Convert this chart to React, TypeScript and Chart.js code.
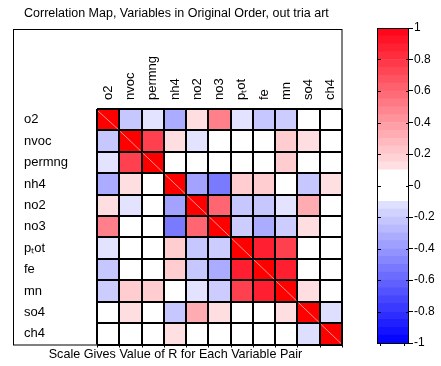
import React, { useEffect, useRef } from "react";
import { Chart, registerables } from "chart.js";

Chart.register(...registerables);

// ---------- data ----------
const variables = ["o2", "nvoc", "permng", "nh4", "no2", "no3", "pₜot", "fe", "mn", "so4", "ch4"];

const rowO2 = [1, -0.22, -0.11, -0.33, 0.13, 0.5, -0.11, -0.22, -0.2, 0, 0];
const rowNvoc = [-0.22, 1, 0.75, 0.13, -0.11, 0, 0, 0, 0.2, 0.13, 0];
const rowPermng = [-0.11, 0.75, 1, 0, 0, 0, 0, 0, 0.2, 0, 0];
const rowNh4 = [-0.33, 0.13, 0, 1, -0.36, -0.52, 0.2, 0.2, 0, -0.22, 0.12];
const rowNo2 = [0.13, -0.11, 0, -0.36, 1, 0.6, -0.22, -0.22, -0.11, 0.33, 0];
const rowNo3 = [0.5, 0, 0, -0.52, 0.6, 1, -0.2, -0.33, -0.2, 0.13, 0];
const rowPtot = [-0.11, 0, 0, 0.2, -0.22, -0.2, 1, 0.88, 0.75, 0, 0];
const rowFe = [-0.22, 0, 0, 0.2, -0.22, -0.33, 0.88, 1, 0.88, 0, 0];
const rowMn = [-0.2, 0.2, 0.2, 0, -0.11, -0.2, 0.75, 0.88, 1, 0.13, 0];
const rowSo4 = [0, 0.13, 0, -0.22, 0.33, 0.13, 0, 0, 0.13, 1, -0.13];
const rowCh4 = [0, 0, 0, 0.12, 0, 0, 0, 0, 0, -0.13, 1];

const matrixRows = [rowO2, rowNvoc, rowPermng, rowNh4, rowNo2, rowNo3, rowPtot, rowFe, rowMn, rowSo4, rowCh4];

const colorbarLevels = [
  -1, -0.95, -0.9, -0.85, -0.8, -0.75, -0.7, -0.65, -0.6, -0.55, -0.5, -0.45, -0.4, -0.35, -0.3, -0.25, -0.2, -0.15, -0.1,
  0.1, 0.15, 0.2, 0.25, 0.3, 0.35, 0.4, 0.45, 0.5, 0.55, 0.6, 0.65, 0.7, 0.75, 0.8, 0.85, 0.9, 0.95, 1,
];
const colorbarTicks = [-1, -0.8, -0.6, -0.4, -0.2, 0, 0.2, 0.4, 0.6, 0.8, 1];

const titleText = "Correlation Map, Variables in Original Order, out tria art";
const captionText = "Scale Gives Value of R for Each Variable Pair";

const FONT = "'Liberation Sans', Arial, Helvetica, sans-serif";
const LABEL_SIZE = 13;

function colorFor(v: number): string {
  const a = Math.abs(v);
  if (a < 0.1) return "rgb(255,255,255)";
  const c = Math.round(255 * (1 - a));
  if (v > 0) {
    const b = a >= 0.999 ? 0 : Math.min(255, c + Math.round(20 * a));
    return `rgb(255,${c},${b})`;
  }
  return `rgb(${c},${c},255)`;
}

const heatmapDecor = {
  id: "heatmapDecor",
  afterDraw(chart: any) {
    const { ctx, chartArea } = chart;
    const { left, right, top, bottom } = chartArea;
    ctx.save();
    // faint diagonal lines in the diagonal cells
    ctx.strokeStyle = "rgba(255,160,160,0.9)";
    ctx.lineWidth = 1;
    for (let i = 0; i < matrixRows.length; i++) {
      const el: any = chart.getDatasetMeta(i).data[i];
      if (!el) continue;
      const x0 = el.x - el.width / 2 + 1;
      const x1 = el.x + el.width / 2 - 1;
      const y0 = Math.min(el.y, el.base) + 1;
      const y1 = Math.max(el.y, el.base) - 1;
      ctx.beginPath();
      ctx.moveTo(x0, y0);
      ctx.lineTo(x1, y1);
      ctx.stroke();
    }
    // outer frame
    ctx.strokeStyle = "#000";
    ctx.lineWidth = 1;
    const fl = Math.round(left - 84) + 0.5;
    const ft = Math.round(top - 80) + 0.5;
    ctx.strokeRect(fl, ft, Math.round(right) - fl, Math.round(bottom) - ft);
    // little ticks below the map
    const n = variables.length;
    const w = (right - left) / n;
    ctx.beginPath();
    for (let k = 0; k <= n; k++) {
      const x = Math.round(left + k * w) + 0.5;
      ctx.moveTo(x, bottom);
      ctx.lineTo(x, bottom + 3);
    }
    ctx.stroke();
    // caption
    ctx.fillStyle = "#000";
    ctx.font = `12.6px ${FONT}`;
    ctx.textAlign = "center";
    ctx.textBaseline = "middle";
    ctx.fillText(captionText, (left - 84 + right) / 2 - 2, bottom + 10);
    ctx.restore();
  },
};

const colorbarDecor = {
  id: "colorbarDecor",
  afterDraw(chart: any) {
    const { ctx, chartArea, scales } = chart;
    const { left, right, top, bottom } = chartArea;
    ctx.save();
    ctx.strokeStyle = "#000";
    ctx.lineWidth = 1;
    ctx.strokeRect(Math.round(left) + 0.5, Math.round(top) + 0.5, Math.round(right - left) - 1, Math.round(bottom - top));
    ctx.beginPath();
    for (const t of colorbarTicks) {
      const y = Math.round(scales.y.getPixelForValue(t)) + 0.5;
      ctx.moveTo(left, y);
      ctx.lineTo(left + 4, y);
      ctx.moveTo(right - 3, y);
      ctx.lineTo(right, y);
    }
    ctx.moveTo(Math.round(left + 3) + 0.5, bottom);
    ctx.lineTo(Math.round(left + 3) + 0.5, bottom + 3);
    ctx.moveTo(Math.round(right - 5) + 0.5, bottom);
    ctx.lineTo(Math.round(right - 5) + 0.5, bottom + 3);
    ctx.stroke();
    ctx.restore();
  },
};

export default function App() {
  const mapRef = useRef<HTMLCanvasElement | null>(null);
  const barRef = useRef<HTMLCanvasElement | null>(null);

  useEffect(() => {
    Chart.defaults.font.family = FONT;
    Chart.defaults.color = "#000";

    const mapChart = new Chart(mapRef.current as HTMLCanvasElement, {
      type: "bar",
      data: {
        labels: variables,
        datasets: matrixRows.map((row, i) => ({
          label: variables[i],
          data: row.map(() => [i, i + 1]),
          backgroundColor: row.map((v) => colorFor(v)),
          borderWidth: 0,
          grouped: false,
          barPercentage: 1,
          categoryPercentage: 1,
          xAxisID: "x",
          yAxisID: "y",
        })) as any,
      },
      options: {
        animation: false,
        responsive: false,
        maintainAspectRatio: false,
        devicePixelRatio: 1,
        events: [],
        layout: { padding: { left: 24, right: 8, top: 0, bottom: 21.5 } },
        plugins: {
          legend: { display: false },
          tooltip: { enabled: false },
          title: {
            display: true,
            text: titleText,
            align: "start",
            color: "#000",
            font: { size: 12.5, weight: "normal", family: FONT, lineHeight: 1.2 },
            padding: { top: 6, bottom: 0 },
          },
        },
        scales: {
          x: {
            type: "category",
            position: "top",
            offset: true,
            grid: { offset: true, color: "#000", lineWidth: 2, drawTicks: false, z: 1 },
            border: { display: false },
            ticks: {
              autoSkip: false,
              minRotation: 90,
              maxRotation: 90,
              padding: 9,
              labelOffset: LABEL_SIZE * 1.2,
              color: "#000",
              font: { size: LABEL_SIZE, family: FONT },
            },
            afterFit: (s: any) => {
              s.height = 88;
            },
          },
          y: {
            type: "linear",
            min: 0,
            max: 11,
            reverse: true,
            position: "left",
            grid: { color: "#000", lineWidth: 2, drawTicks: false, z: 1 },
            border: { display: false },
            ticks: { display: false, stepSize: 1 },
            afterFit: (s: any) => {
              s.width = 0;
            },
          },
          yl: {
            type: "category",
            labels: variables,
            position: "left",
            offset: true,
            grid: { display: false },
            border: { display: false },
            ticks: { crossAlign: "far", autoSkip: false, color: "#000", font: { size: LABEL_SIZE, family: FONT } },
            afterFit: (s: any) => {
              s.width = 73;
            },
          },
        } as any,
      },
      plugins: [heatmapDecor],
    });

    const bands = colorbarLevels.slice(0, -1).map((lo, k) => {
      const hi = colorbarLevels[k + 1];
      return { lo, hi, color: colorFor((lo + hi) / 2) };
    });

    const barChart = new Chart(barRef.current as HTMLCanvasElement, {
      type: "bar",
      data: {
        labels: ["R"],
        datasets: bands.map((b) => ({
          data: [[b.lo, b.hi]],
          backgroundColor: b.color,
          borderWidth: 0,
          grouped: false,
          barPercentage: 1,
          categoryPercentage: 1,
        })) as any,
      },
      options: {
        animation: false,
        responsive: false,
        maintainAspectRatio: false,
        devicePixelRatio: 1,
        events: [],
        layout: { padding: { left: 27, right: 0, top: 28, bottom: 23 } },
        plugins: { legend: { display: false }, tooltip: { enabled: false } },
        scales: {
          x: { display: false },
          y: {
            type: "linear",
            position: "right",
            min: -1,
            max: 1,
            afterBuildTicks: (s: any) => {
              s.ticks = colorbarTicks.map((v) => ({ value: v }));
            },
            ticks: {
              color: "#000",
              padding: 1,
              font: { size: 12, family: FONT },
              callback: (v: any) => String(Math.round(Number(v) * 10) / 10),
            },
            grid: { drawOnChartArea: false, color: "#000", tickLength: 4 },
            border: { display: false },
            afterFit: (s: any) => {
              s.width = 32;
            },
          },
        } as any,
      },
      plugins: [colorbarDecor],
    });

    return () => {
      mapChart.destroy();
      barChart.destroy();
    };
  }, []);

  return (
    <div style={{ position: "absolute", left: 0, top: 0, width: 441, height: 366, background: "#fff" }}>
      <canvas
        ref={mapRef}
        width={350}
        height={366}
        style={{ position: "absolute", left: 0, top: 0, width: 350, height: 366 }}
      />
      <canvas
        ref={barRef}
        width={91}
        height={366}
        style={{ position: "absolute", left: 350, top: 0, width: 91, height: 366 }}
      />
    </div>
  );
}
